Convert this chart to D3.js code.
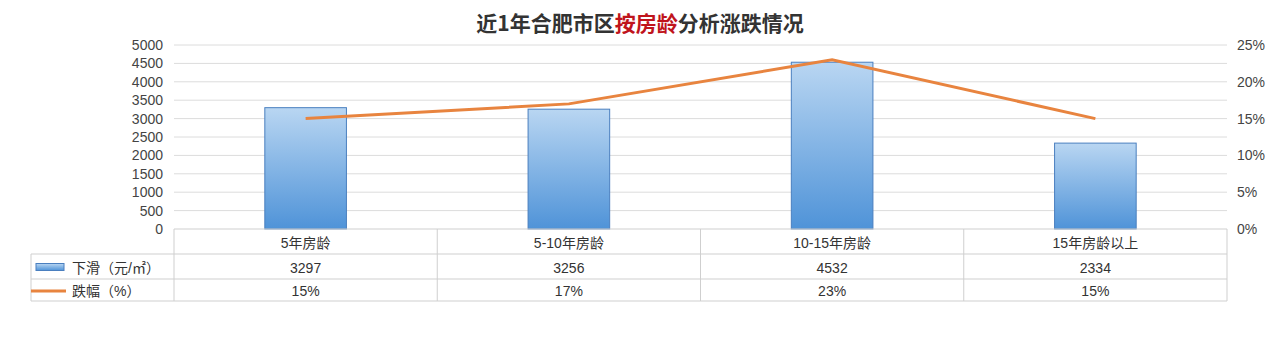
<!DOCTYPE html>
<html>
<head>
<meta charset="utf-8">
<script src="https://cdn.jsdelivr.net/npm/d3@7"></script>
<style>
  body { margin: 0; background: #fff; }
  svg text { font-family: "Liberation Sans", Arial, "Noto Sans CJK SC", sans-serif; }
</style>
</head>
<body>
<div id="chart"></div>
<script>
// chart data
const categories = ["5年房龄", "5-10年房龄", "10-15年房龄", "15年房龄以上"];
const dropValues = [3297, 3256, 4532, 2334];
const dropPct = [15, 17, 23, 15];
const leftTicks = [0, 500, 1000, 1500, 2000, 2500, 3000, 3500, 4000, 4500, 5000];
const rightTicks = [0, 5, 10, 15, 20, 25];
const seriesNames = ["下滑（元/㎡）", "跌幅（%）"];

const width = 1280, height = 361;
const plot = { left: 174, right: 1227, top: 45, bottom: 229 };
const rowH = [25, 25, 22];
const legendLeft = 31;

const svg = d3.select("#chart").append("svg")
  .attr("width", width)
  .attr("height", height);

const defs = svg.append("defs");
const grad = defs.append("linearGradient")
  .attr("id", "barGrad")
  .attr("x1", 0).attr("y1", 0).attr("x2", 0).attr("y2", 1);
grad.append("stop").attr("offset", "0%").attr("stop-color", "#b9d6f2");
grad.append("stop").attr("offset", "100%").attr("stop-color", "#4f93d8");

// title
const title = svg.append("text")
  .attr("x", 640)
  .attr("y", 31)
  .attr("text-anchor", "middle")
  .style("font-size", "21px")
  .style("font-weight", "bold")
  .style("font-family", "'Noto Sans CJK SC', sans-serif")
  .attr("fill", "#333");
title.append("tspan").text("近1年合肥市区");
title.append("tspan").attr("fill", "#c0141c").text("按房龄");
title.append("tspan").text("分析涨跌情况");

const x = d3.scaleBand()
  .domain(categories)
  .range([plot.left, plot.right])
  .paddingInner(0.69)
  .paddingOuter(0.345);

const xc = d3.scalePoint()
  .domain(categories)
  .range([plot.left, plot.right])
  .padding(0.5);

const y = d3.scaleLinear().domain([0, 5000]).range([plot.bottom, plot.top]);
const y2 = d3.scaleLinear().domain([0, 25]).range([plot.bottom, plot.top]);

// gridlines
svg.append("g")
  .selectAll("line")
  .data(leftTicks.slice(1))
  .enter()
  .append("line")
  .attr("x1", plot.left).attr("x2", plot.right)
  .attr("y1", d => y(d)).attr("y2", d => y(d))
  .attr("stroke", "#dcdcdc")
  .attr("stroke-width", 1);

// left axis
const leftAxis = svg.append("g")
  .attr("transform", `translate(${plot.left - 11},0)`)
  .call(d3.axisLeft(y).tickValues(leftTicks).tickSize(0).tickPadding(0)
    .tickFormat(d3.format("d")));
leftAxis.select(".domain").remove();
leftAxis.selectAll("text").style("font-size", "14px").attr("fill", "#444");

// right axis
const rightAxis = svg.append("g")
  .attr("transform", `translate(${plot.right + 10},0)`)
  .call(d3.axisRight(y2).tickValues(rightTicks).tickSize(0).tickPadding(0)
    .tickFormat(d => d + "%"));
rightAxis.select(".domain").remove();
rightAxis.selectAll("text").style("font-size", "14px").attr("fill", "#444");

// bars
svg.append("g")
  .selectAll("rect")
  .data(dropValues)
  .enter()
  .append("rect")
  .attr("x", (d, i) => x(categories[i]))
  .attr("y", d => y(d))
  .attr("width", x.bandwidth())
  .attr("height", d => plot.bottom - y(d))
  .attr("fill", "url(#barGrad)")
  .attr("stroke", "#4a7fbf")
  .attr("stroke-width", 1);

// line
const line = d3.line()
  .x((d, i) => xc(categories[i]))
  .y(d => y2(d));

svg.append("path")
  .datum(dropPct)
  .attr("d", line)
  .attr("fill", "none")
  .attr("stroke", "#e8843f")
  .attr("stroke-width", 3);

// data table
const tbl = svg.append("g");
const rowY = [plot.bottom, plot.bottom + rowH[0], plot.bottom + rowH[0] + rowH[1], plot.bottom + rowH[0] + rowH[1] + rowH[2]];
const borderColor = "#cfcfcf";

// horizontal lines
tbl.append("line")
  .attr("x1", plot.left).attr("x2", plot.right)
  .attr("y1", rowY[0]).attr("y2", rowY[0])
  .attr("stroke", borderColor);
[rowY[1], rowY[2], rowY[3]].forEach(yy => {
  tbl.append("line")
    .attr("x1", legendLeft).attr("x2", plot.right)
    .attr("y1", yy).attr("y2", yy)
    .attr("stroke", borderColor);
});

// vertical lines
const dividers = categories.map(c => x(c) - (x.step() * x.paddingInner()) / 2);
dividers.push(plot.right);
dividers.forEach(xx => {
  tbl.append("line")
    .attr("x1", xx).attr("x2", xx)
    .attr("y1", rowY[0]).attr("y2", rowY[3])
    .attr("stroke", borderColor);
});
tbl.append("line")
  .attr("x1", legendLeft).attr("x2", legendLeft)
  .attr("y1", rowY[1]).attr("y2", rowY[3])
  .attr("stroke", borderColor);

const cellText = function (xx, yy, txt) {
  tbl.append("text")
    .attr("x", xx)
    .attr("y", yy)
    .attr("text-anchor", "middle")
    .attr("dominant-baseline", "central")
    .style("font-size", "14px")
    .attr("fill", "#333")
    .text(txt);
};

categories.forEach((c, i) => {
  cellText(xc(c), (rowY[0] + rowY[1]) / 2 + 1, c);
  cellText(xc(c), (rowY[1] + rowY[2]) / 2 + 1, dropValues[i]);
  cellText(xc(c), (rowY[2] + rowY[3]) / 2 + 1, dropPct[i] + "%");
});

// legend keys
tbl.append("rect")
  .attr("x", 36).attr("y", (rowY[1] + rowY[2]) / 2 - 3)
  .attr("width", 28).attr("height", 7)
  .attr("fill", "url(#barGrad)")
  .attr("stroke", "#4a7fbf");
tbl.append("line")
  .attr("x1", 31).attr("x2", 66)
  .attr("y1", (rowY[2] + rowY[3]) / 2 + 1).attr("y2", (rowY[2] + rowY[3]) / 2 + 1)
  .attr("stroke", "#e8843f")
  .attr("stroke-width", 3);

seriesNames.forEach((s, i) => {
  tbl.append("text")
    .attr("x", 72)
    .attr("y", (rowY[i + 1] + rowY[i + 2]) / 2 + 1)
    .attr("dominant-baseline", "central")
    .style("font-size", "14px")
    .attr("fill", "#333")
    .text(s);
});
</script>
</body>
</html>
